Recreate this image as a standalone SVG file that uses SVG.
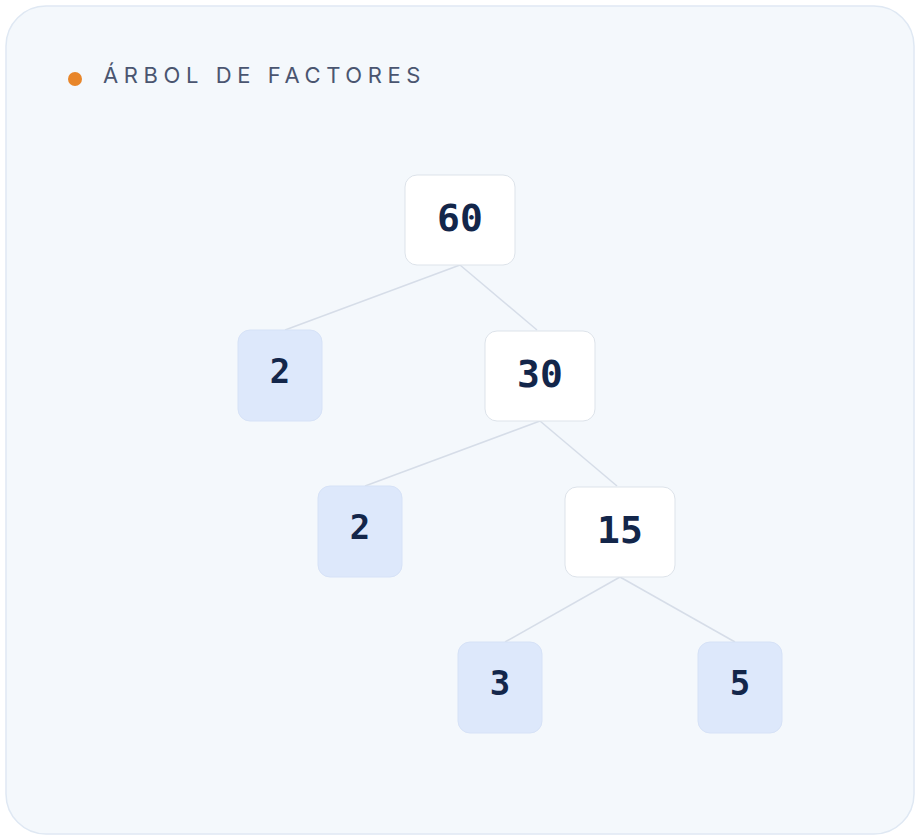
<svg xmlns="http://www.w3.org/2000/svg" width="920" height="840" viewBox="0 0 920 840">
<style>
.card{fill:#f4f8fc;stroke:#dfe8f3;stroke-width:1.5}
.inner{fill:#ffffff;stroke:#dde3ea;stroke-width:1}
.leaf{fill:#dde8fb;stroke:#d6e2f7;stroke-width:1}
.edge{stroke:#d6dde8;stroke-width:1.5;fill:none}
.num{font-family:"DejaVu Sans Mono",monospace;font-weight:bold;fill:#13264a;text-anchor:middle}
.big{font-size:38px}
.small{font-size:34px}
.title{font-family:Inter,"Noto Sans",sans-serif;font-size:22px;letter-spacing:5.6px;fill:#4a5570}
</style>
<rect class="card" x="6" y="6" width="908" height="828" rx="40"/>
<g id="header">
<circle cx="75" cy="79" r="7" fill="#e8862a"/>
<text class="title" x="103" y="83">ÁRBOL DE FACTORES</text>
</g>
<g id="connectors">
<line class="edge" x1="460" y1="265" x2="285" y2="330"/>
<line class="edge" x1="460" y1="265" x2="537" y2="330"/>
<line class="edge" x1="540" y1="421" x2="365" y2="486"/>
<line class="edge" x1="540" y1="421" x2="617" y2="486"/>
<line class="edge" x1="620" y1="577" x2="505" y2="642"/>
<line class="edge" x1="620" y1="577" x2="735" y2="642"/>
</g>
<g id="n60"><rect class="inner" x="405" y="175" width="110" height="90" rx="12"/><text class="num big" x="460" y="231">60</text></g>
<g id="n2a"><rect class="leaf" x="238" y="330" width="84" height="91" rx="12"/><text class="num small" x="280" y="383">2</text></g>
<g id="n30"><rect class="inner" x="485" y="331" width="110" height="90" rx="12"/><text class="num big" x="540" y="387">30</text></g>
<g id="n2b"><rect class="leaf" x="318" y="486" width="84" height="91" rx="12"/><text class="num small" x="360" y="539">2</text></g>
<g id="n15"><rect class="inner" x="565" y="487" width="110" height="90" rx="12"/><text class="num big" x="620" y="543">15</text></g>
<g id="n3"><rect class="leaf" x="458" y="642" width="84" height="91" rx="12"/><text class="num small" x="500" y="695">3</text></g>
<g id="n5"><rect class="leaf" x="698" y="642" width="84" height="91" rx="12"/><text class="num small" x="740" y="695">5</text></g>
</svg>
